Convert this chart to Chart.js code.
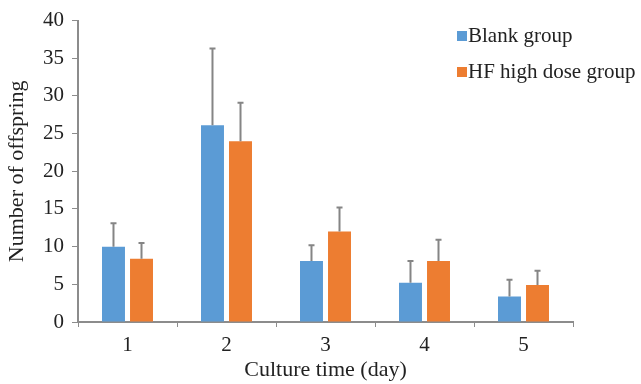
<!DOCTYPE html>
<html>
<head>
<meta charset="utf-8">
<script src="https://cdn.jsdelivr.net/npm/chart.js@4/dist/chart.umd.min.js"></script>
<style>
    body { margin: 0; background: #fff; }
    #container { display: block; }
</style>
</head>
<body>
<canvas id="container" width="641" height="384"></canvas>
<script>
"use strict";

const days = ["1", "2", "3", "4", "5"];
const blankValues = [10.0, 26.1, 8.1, 5.2, 3.4];
const blankErrors = [3.1, 10.2, 2.1, 2.9, 2.2];
const hfValues = [8.4, 24.0, 12.0, 8.1, 4.9];
const hfErrors = [2.1, 5.1, 3.2, 2.8, 1.9];
const yTicks = [0, 5, 10, 15, 20, 25, 30, 35, 40];

const serif = "'Liberation Serif', 'Times New Roman', serif";
const axisGray = "#8c8c8c";

// error bars, only the upper half like in the figure
const errorBars = {
    id: "errorBars",
    afterDatasetsDraw(chart) {
        const ctx = chart.ctx;
        const yScale = chart.scales.y;
        ctx.save();
        ctx.strokeStyle = "#858585";
        ctx.lineWidth = 2;
        chart.data.datasets.forEach((ds, i) => {
            const meta = chart.getDatasetMeta(i);
            meta.data.forEach((bar, j) => {
                const top = yScale.getPixelForValue(ds.data[j] + ds.errors[j]);
                ctx.beginPath();
                ctx.moveTo(bar.x, bar.y);
                ctx.lineTo(bar.x, top);
                ctx.moveTo(bar.x - 3, top);
                ctx.lineTo(bar.x + 3, top);
                ctx.stroke();
            });
        });
        ctx.restore();
    }
};

// legend sits inside the plot, top right
const boxLegend = {
    id: "boxLegend",
    afterDraw(chart) {
        const ctx = chart.ctx;
        ctx.save();
        ctx.font = "21px " + serif;
        ctx.textBaseline = "middle";
        ctx.textAlign = "left";
        chart.data.datasets.forEach((ds, i) => {
            const y = 36 + i * 36;
            ctx.fillStyle = ds.backgroundColor;
            ctx.fillRect(457, y - 5, 10, 10);
            ctx.fillStyle = "#222";
            ctx.fillText(ds.label, 468, y);
        });
        ctx.restore();
    }
};

var ctx = document.getElementById("container").getContext("2d");
var dataChart = new Chart(ctx, {
    type: "bar",
    data: {
        labels: days,
        datasets: [{
            label: "Blank group",
            backgroundColor: "#5b9bd5",
            data: blankValues,
            errors: blankErrors
        }, {
            label: "HF high dose group",
            backgroundColor: "#ed7d31",
            data: hfValues,
            errors: hfErrors
        }]
    },
    options: {
        responsive: false,
        animation: false,
        categoryPercentage: 0.566,
        barPercentage: 0.82,
        layout: {
            padding: { top: 16, right: 68, bottom: 0, left: 0 }
        },
        plugins: {
            legend: { display: false },
            tooltip: { enabled: false }
        },
        scales: {
            x: {
                grid: {
                    drawOnChartArea: false,
                    tickLength: 5,
                    tickColor: axisGray,
                    tickWidth: 1
                },
                border: { color: axisGray, width: 2 },
                ticks: {
                    color: "#222",
                    padding: 6,
                    font: { family: serif, size: 21 }
                },
                title: {
                    display: true,
                    text: "Culture time (day)",
                    color: "#222",
                    padding: { top: 0, bottom: 1 },
                    font: { family: serif, size: 22 }
                },
                afterFit(scale) { scale.height = 62; }
            },
            y: {
                min: 0,
                max: 40,
                afterBuildTicks(scale) {
                    scale.ticks = yTicks.map(v => ({ value: v }));
                },
                grid: {
                    drawOnChartArea: false,
                    tickLength: 6,
                    tickColor: axisGray,
                    tickWidth: 1
                },
                border: { color: axisGray, width: 2 },
                ticks: {
                    color: "#222",
                    padding: 8,
                    font: { family: serif, size: 21 }
                },
                title: {
                    display: true,
                    text: "Number of offspring",
                    color: "#222",
                    padding: { top: 4, bottom: 4 },
                    font: { family: serif, size: 22 }
                },
                afterFit(scale) { scale.width = 78; }
            }
        }
    },
    plugins: [errorBars, boxLegend]
});
</script>
</body>
</html>
